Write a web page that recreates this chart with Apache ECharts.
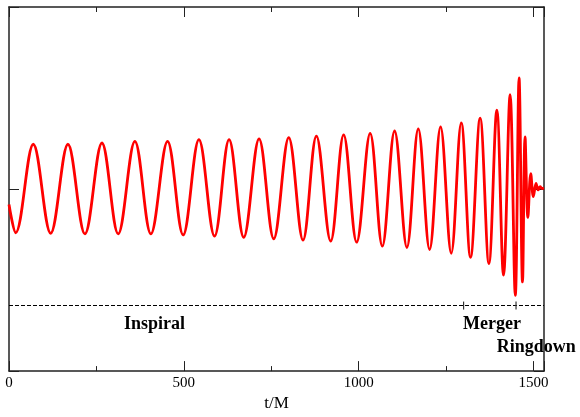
<!DOCTYPE html>
<html>
<head>
<meta charset="utf-8">
<script src="https://cdn.jsdelivr.net/npm/echarts@6/dist/echarts.min.js"></script>
<style>
html,body{margin:0;padding:0;background:#fff;}
#chart{width:580px;height:417px;}
</style>
</head>
<body>
<div id="chart"></div>
<script>
// Waveform extrema (t/M, strain in arbitrary units)
const times = [0, 19.1, 69.4, 119.2, 168.5, 217.1, 265.7, 312.2, 360.0, 405.7, 453.4, 498.0, 543.1, 587.7, 629.4, 671.3, 715.1, 757.1, 800.0, 840.8, 879.1, 919.9, 957.0, 994.2, 1032.8, 1067.6, 1102.7, 1137.9, 1170.4, 1202.8, 1234.2, 1264.7, 1293.3, 1319.9, 1347.3, 1372.4, 1395.1, 1414.2, 1433.0, 1447.9, 1458.7, 1468.5, 1475.8, 1483.9, 1492.1, 1499.6, 1507.2, 1513.0, 1518.8, 1524.5, 1530];
const strain = [-0.085, -0.240, 0.246, -0.243, 0.246, -0.246, 0.253, -0.246, 0.262, -0.246, 0.262, -0.252, 0.271, -0.259, 0.271, -0.265, 0.276, -0.273, 0.283, -0.281, 0.291, -0.286, 0.298, -0.292, 0.306, -0.314, 0.319, -0.321, 0.330, -0.332, 0.342, -0.353, 0.364, -0.375, 0.390, -0.409, 0.434, -0.473, 0.518, -0.584, 0.610, -0.510, 0.287, -0.156, 0.084, -0.041, 0.031, -0.005, 0.013, 0.003, 0.005];

// Phase boundaries and annotations
const phaseLineLevel = -0.64;
const phaseBoundaries = [1300, 1450];
const phaseNames = ['Inspiral', 'Merger', 'Ringdown'];
const phaseLabelT = [416, 1381, 1508];
const phaseLabelY = [-0.742, -0.745, -0.870];

const xTicks = { min: 0, max: 1530, interval: 500 };
const axisTitle = 't/M';

const chart = echarts.init(document.getElementById('chart'), null, { renderer: 'canvas' });
const serif = 'Liberation Serif, Times New Roman, serif';
const axisCol = '#222';

const data = times.map((t, i) => [t, strain[i]]);

const baseX = {
  type: 'value', min: xTicks.min, max: xTicks.max, interval: xTicks.interval,
  axisLine: { show: true, onZero: false, lineStyle: { color: axisCol, width: 1.5 } },
  axisTick: { show: true, inside: true, length: 10, lineStyle: { color: axisCol, width: 1 } },
  minorTick: { show: true, splitNumber: 2, length: 5, lineStyle: { color: axisCol, width: 1 } },
  splitLine: { show: false }
};
const baseY = {
  type: 'value', min: -1, max: 1, interval: 1,
  axisLine: { show: true, onZero: false, lineStyle: { color: axisCol, width: 1.5 } },
  axisTick: { show: true, inside: true, length: 10, lineStyle: { color: axisCol, width: 1 } },
  axisLabel: { show: false },
  splitLine: { show: false }
};

chart.setOption({
  animation: false,
  backgroundColor: '#fff',
  grid: { left: 9, right: 36, top: 7, bottom: 36, containLabel: false },
  xAxis: [
    Object.assign({}, baseX, {
      position: 'bottom',
      name: axisTitle, nameLocation: 'middle', nameGap: 20,
      nameTextStyle: { fontFamily: serif, fontSize: 17, color: '#000' },
      axisLabel: { show: true, margin: 4, fontFamily: serif, fontSize: 15, color: '#000', formatter: v => String(v) }
    }),
    Object.assign({}, baseX, { position: 'top', axisLabel: { show: false } })
  ],
  yAxis: [
    Object.assign({}, baseY, { position: 'left' }),
    Object.assign({}, baseY, { position: 'right' })
  ],
  series: [
    {
      type: 'line',
      data: data,
      smooth: 0.36,
      showSymbol: false,
      lineStyle: { color: '#ff0000', width: 2.8 },
      markLine: {
        silent: true, symbol: 'none',
        lineStyle: { color: '#000', type: [4, 2], width: 1 },
        label: { show: false },
        data: [[{ coord: [xTicks.min, phaseLineLevel] }, { coord: [xTicks.max, phaseLineLevel] }]]
      },
      markPoint: {
        silent: true,
        data: phaseBoundaries.map(b => ({
          coord: [b, phaseLineLevel], symbol: 'rect', symbolSize: [1.2, 8],
          itemStyle: { color: '#333' }, label: { show: false }
        })).concat(phaseNames.map((n, i) => ({
          coord: [phaseLabelT[i], phaseLabelY[i]], symbol: 'circle', symbolSize: 0,
          label: { show: true, position: 'inside', formatter: n, fontFamily: serif, fontWeight: 'bold', fontSize: 18, color: '#000' }
        })))
      }
    }
  ]
});
</script>
</body>
</html>
